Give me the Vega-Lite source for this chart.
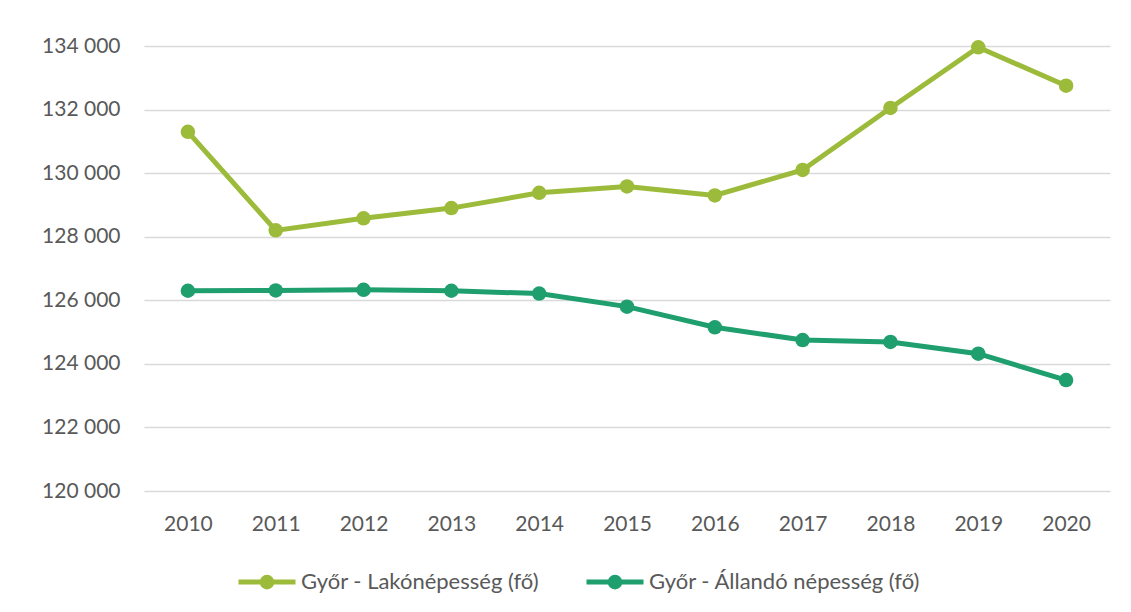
{
  "$schema": "https://vega.github.io/schema/vega-lite/v6.json",
  "width": 966,
  "height": 445,
  "autosize": {"type": "none"},
  "padding": {"left": 144, "top": 46, "right": 21, "bottom": 121},
  "background": "white",
  "config": {
    "font": "Lato",
    "view": {"stroke": null}
  },
  "data": {
    "values": [
      {"year": "2010", "series": "Győr - Lakónépesség (fő)", "value": 131300},
      {"year": "2011", "series": "Győr - Lakónépesség (fő)", "value": 128200},
      {"year": "2012", "series": "Győr - Lakónépesség (fő)", "value": 128580},
      {"year": "2013", "series": "Győr - Lakónépesség (fő)", "value": 128900},
      {"year": "2014", "series": "Győr - Lakónépesség (fő)", "value": 129380},
      {"year": "2015", "series": "Győr - Lakónépesség (fő)", "value": 129580},
      {"year": "2016", "series": "Győr - Lakónépesség (fő)", "value": 129300},
      {"year": "2017", "series": "Győr - Lakónépesség (fő)", "value": 130100},
      {"year": "2018", "series": "Győr - Lakónépesség (fő)", "value": 132050},
      {"year": "2019", "series": "Győr - Lakónépesség (fő)", "value": 133960},
      {"year": "2020", "series": "Győr - Lakónépesség (fő)", "value": 132750},
      {"year": "2010", "series": "Győr - Állandó népesség (fő)", "value": 126300},
      {"year": "2011", "series": "Győr - Állandó népesség (fő)", "value": 126310},
      {"year": "2012", "series": "Győr - Állandó népesség (fő)", "value": 126330},
      {"year": "2013", "series": "Győr - Állandó népesség (fő)", "value": 126300},
      {"year": "2014", "series": "Győr - Állandó népesség (fő)", "value": 126210},
      {"year": "2015", "series": "Győr - Állandó népesség (fő)", "value": 125800},
      {"year": "2016", "series": "Győr - Állandó népesség (fő)", "value": 125150},
      {"year": "2017", "series": "Győr - Állandó népesség (fő)", "value": 124750},
      {"year": "2018", "series": "Győr - Állandó népesség (fő)", "value": 124690},
      {"year": "2019", "series": "Győr - Állandó népesség (fő)", "value": 124320},
      {"year": "2020", "series": "Győr - Állandó népesség (fő)", "value": 123490}
    ]
  },
  "mark": {"type": "line", "strokeWidth": 5, "point": {"filled": true, "size": 210, "opacity": 1}},
  "encoding": {
    "x": {
      "field": "year",
      "type": "ordinal",
      "scale": {"type": "point", "padding": 0.5},
      "axis": {
        "title": null,
        "labelAngle": 0,
        "domain": false,
        "ticks": false,
        "grid": false,
        "labelFontSize": 21,
        "labelColor": "#595959",
        "labelPadding": 22
      }
    },
    "y": {
      "field": "value",
      "type": "quantitative",
      "scale": {"domain": [120000, 134000], "zero": false, "nice": false},
      "axis": {
        "title": null,
        "values": [120000, 122000, 124000, 126000, 128000, 130000, 132000, 134000],
        "labelExpr": "replace(format(datum.value, ','), ',', ' ')",
        "domain": false,
        "ticks": false,
        "grid": true,
        "gridColor": "#d9d9d9",
        "gridWidth": 1.5,
        "labelFontSize": 21,
        "labelColor": "#595959",
        "labelPadding": 24
      }
    },
    "color": {
      "field": "series",
      "type": "nominal",
      "scale": {
        "domain": ["Győr - Lakónépesség (fő)", "Győr - Állandó népesség (fő)"],
        "range": ["#9dbb3b", "#1f9e6e"]
      },
      "legend": {
        "title": null,
        "orient": "none",
        "direction": "horizontal",
        "legendX": 92,
        "legendY": 505,
        "symbolType": "M-1,0H1M-0.17,0A0.17,0.17,0,1,1,0.17,0A0.17,0.17,0,1,1,-0.17,0Z",
        "symbolSize": 3249,
        "symbolStrokeWidth": 5,
        "labelFontSize": 22,
        "labelLimit": 0,
        "labelColor": "#595959",
        "labelOffset": 3,
        "columnPadding": 37,
        "encode": {
          "symbols": {
            "update": {
              "fill": {"scale": "color", "field": "value"},
              "stroke": {"scale": "color", "field": "value"},
              "opacity": {"value": 1},
              "fillOpacity": {"value": 1}
            }
          }
        }
      }
    }
  }
}
